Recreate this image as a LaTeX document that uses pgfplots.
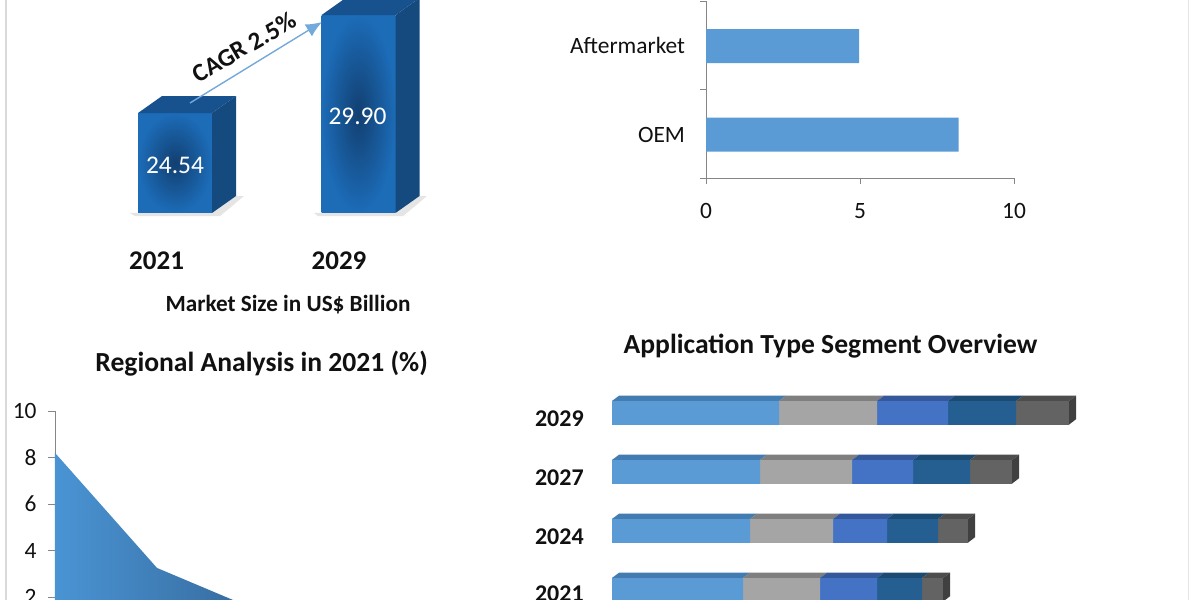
\documentclass[border=0pt]{standalone}
\usepackage{pgfplots}
\pgfplotsset{compat=1.18}
\usetikzlibrary{arrows.meta}
\usepackage{fontspec}
\setmainfont{Carlito}
\definecolor{axgray}{HTML}{868686}
\definecolor{barblue}{HTML}{5B9BD5}
\definecolor{sidefc}{HTML}{154A7E}
\definecolor{topfc}{HTML}{17528E}
\definecolor{frontout}{HTML}{1C6CB8}
\definecolor{frontin}{HTML}{123F70}
\definecolor{sa}{HTML}{5B9BD5}
\definecolor{sb}{HTML}{A5A5A5}
\definecolor{sc}{HTML}{4472C4}
\definecolor{sd}{HTML}{255E91}
\definecolor{se}{HTML}{636363}
\definecolor{ta}{HTML}{437CB0}
\definecolor{tb}{HTML}{7F7F7F}
\definecolor{tc}{HTML}{34589A}
\definecolor{td}{HTML}{1B4A73}
\definecolor{te}{HTML}{4D4D4D}
\definecolor{cap}{HTML}{404040}
\definecolor{txt}{HTML}{111111}
\definecolor{HTMLa}{HTML}{4A94D4}
\definecolor{HTMLb}{HTML}{35699B}
\begin{document}
\begin{tikzpicture}
\useasboundingbox (0pt,0pt) rectangle (600pt,300pt);
\clip (0pt,0pt) rectangle (600pt,300pt);
\fill[white] (0pt,0pt) rectangle (600pt,300pt);
\draw[gray!30,line width=0.6pt] (3pt,0pt) -- (3pt,300pt);
\draw[gray!20,line width=0.8pt] (594.3pt,0pt) -- (594.3pt,300pt);
% Panel 1: market size
\begin{axis}[at={(0pt,193.5pt)},anchor=south west,scale only axis,width=600pt,height=109pt,
  xmin=0,xmax=1200,ymin=19.07,ymax=31,axis lines=none,clip=false]
\addplot[fill=gray!20,draw=none,forget plot] coordinates {(130,19.07)(212,19.07)(236,20.0)(244,20.0)(220,18.9)(135,18.9)};
\addplot[fill=gray!20,draw=none,forget plot] coordinates {(314,19.07)(395,19.07)(419,20.0)(427,20.0)(403,18.9)(318,18.9)};
\addplot[ybar,bar width=37pt,bar shift=0pt,draw=none,inner color=frontin,outer color=frontout] coordinates {(175,24.54)};
\addplot[ybar,bar width=37pt,bar shift=0pt,draw=none,inner color=frontin,outer color=frontout] coordinates {(358.5,29.90)};
\addplot[fill=sidefc,draw=none] coordinates {(212,24.54)(236,25.47)(236,20.00)(212,19.07)} -- cycle;
\addplot[fill=topfc,draw=none] coordinates {(138,24.54)(162,25.47)(236,25.47)(212,24.54)} -- cycle;
\addplot[fill=sidefc,draw=none] coordinates {(395.5,29.90)(419.5,30.83)(419.5,20.00)(395.5,19.07)} -- cycle;
\addplot[fill=topfc,draw=none] coordinates {(321.5,29.90)(345.5,30.83)(419.5,30.83)(395.5,29.90)} -- cycle;
\node[text=white,font=\fontsize{12.7pt}{14pt}\selectfont] at (axis cs:175,21.7) {24.54};
\node[text=white,font=\fontsize{12.7pt}{14pt}\selectfont] at (axis cs:357.5,24.38) {29.90};
\end{axis}
\draw[-{Latex[length=8pt,width=7pt]},color=barblue!85,line width=0.7pt] (95pt,248.5pt) -- (161pt,289pt);
\node[rotate=30,text=txt,font=\bfseries\fontsize{12.6pt}{15pt}\selectfont] at (122pt,276.5pt) {CAGR 2.5\%};
\node[text=txt,font=\bfseries\fontsize{13.5pt}{15pt}\selectfont] at (78.3pt,169.5pt) {2021};
\node[text=txt,font=\bfseries\fontsize{13.5pt}{15pt}\selectfont] at (169.5pt,169.5pt) {2029};
\node[text=txt,font=\bfseries\fontsize{11.6pt}{13pt}\selectfont] at (144pt,147.7pt) {Market Size in US\$ Billion};
% Panel 2: OEM / Aftermarket
\begin{axis}[at={(353pt,211pt)},anchor=south west,scale only axis,width=154pt,height=88.5pt,
  xmin=0,xmax=10,ymin=0,ymax=2,
  axis x line=bottom,axis y line=left,axis line style={axgray,-},
  xtick={0,5,10},ytick={0,1,2},yticklabels={},
  major tick style={axgray},tick align=outside,major tick length=3pt,
  extra y ticks={0.49,1.5},extra y tick labels={OEM,Aftermarket},
  extra tick style={major tick length=0pt},
  /pgf/number format/assume math mode=true,
  tick label style={text=txt,font=\fontsize{11.7pt}{13pt}\selectfont},
  xticklabel style={yshift=-6pt},yticklabel style={xshift=-7pt},
  xbar,bar width=17pt,bar shift=0pt]
\addplot[fill=barblue,draw=none] coordinates {(8.2,0.49)(4.97,1.49)};
\end{axis}
% Panel 3: regional area
\begin{axis}[at={(27.5pt,-21.75pt)},anchor=south west,scale only axis,width=204pt,height=116.25pt,
  xmin=0,xmax=4,ymin=0,ymax=10,
  axis y line=left,axis x line=none,axis line style={axgray,-},
  ytick={0,2,4,6,8,10},xtick=\empty,major tick style={axgray},tick align=outside,major tick length=3.5pt,
  /pgf/number format/assume math mode=true,
  tick label style={text=txt,font=\fontsize{11.7pt}{13pt}\selectfont},yticklabel style={xshift=-2.2pt}]
\addplot[draw=none,left color=HTMLa,right color=HTMLb] coordinates {(0,8.2)(1,3.25)(2,1.4)(2,0)(0,0)} -- cycle;
\end{axis}
\node[text=txt,font=\bfseries\fontsize{13.8pt}{15pt}\selectfont] at (130.8pt,118pt) {Regional Analysis in 2021 (\%)};
% Panel 4: stacked
\begin{axis}[at={(306pt,-24.4pt)},anchor=south west,scale only axis,width=244pt,height=147.5pt,
  xmin=0,xmax=488,ymin=-1,ymax=4,axis lines=none,xbar stacked,bar width=12pt,clip=false]
\addplot[fill=sa,draw=none] coordinates {(131,0)(138,1)(148,2)(167,3)};
\addplot[fill=sb,draw=none] coordinates {(77,0)(83,1)(92,2)(98,3)};
\addplot[fill=sc,draw=none] coordinates {(57,0)(54,1)(61,2)(71,3)};
\addplot[fill=sd,draw=none] coordinates {(45,0)(51,1)(57,2)(68,3)};
\addplot[fill=se,draw=none] coordinates {(21,0)(30,1)(42,2)(53,3)};
\end{axis}
\begin{axis}[at={(306pt,-24.4pt)},anchor=south west,scale only axis,width=244pt,height=147.5pt,
  xmin=0,xmax=488,ymin=-1,ymax=4,axis lines=none,clip=false]
% row 2029
\addplot[fill=ta,draw=none] coordinates {(0,3.2)(167,3.2)(174,3.29)(7,3.29)} -- cycle;
\addplot[fill=tb,draw=none] coordinates {(167,3.2)(265,3.2)(272,3.29)(174,3.29)} -- cycle;
\addplot[fill=tc,draw=none] coordinates {(265,3.2)(336,3.2)(343,3.29)(272,3.29)} -- cycle;
\addplot[fill=td,draw=none] coordinates {(336,3.2)(404,3.2)(411,3.29)(343,3.29)} -- cycle;
\addplot[fill=te,draw=none] coordinates {(404,3.2)(457,3.2)(464,3.29)(411,3.29)} -- cycle;
\addplot[fill=cap,draw=none] coordinates {(457,2.8)(464,2.89)(464,3.29)(457,3.2)} -- cycle;
% row 2027
\addplot[fill=ta,draw=none] coordinates {(0,2.2)(148,2.2)(155,2.29)(7,2.29)} -- cycle;
\addplot[fill=tb,draw=none] coordinates {(148,2.2)(240,2.2)(247,2.29)(155,2.29)} -- cycle;
\addplot[fill=tc,draw=none] coordinates {(240,2.2)(301,2.2)(308,2.29)(247,2.29)} -- cycle;
\addplot[fill=td,draw=none] coordinates {(301,2.2)(358,2.2)(365,2.29)(308,2.29)} -- cycle;
\addplot[fill=te,draw=none] coordinates {(358,2.2)(400,2.2)(407,2.29)(365,2.29)} -- cycle;
\addplot[fill=cap,draw=none] coordinates {(400,1.8)(407,1.89)(407,2.29)(400,2.2)} -- cycle;
% row 2024
\addplot[fill=ta,draw=none] coordinates {(0,1.2)(138,1.2)(145,1.29)(7,1.29)} -- cycle;
\addplot[fill=tb,draw=none] coordinates {(138,1.2)(221,1.2)(228,1.29)(145,1.29)} -- cycle;
\addplot[fill=tc,draw=none] coordinates {(221,1.2)(275,1.2)(282,1.29)(228,1.29)} -- cycle;
\addplot[fill=td,draw=none] coordinates {(275,1.2)(326,1.2)(333,1.29)(282,1.29)} -- cycle;
\addplot[fill=te,draw=none] coordinates {(326,1.2)(356,1.2)(363,1.29)(333,1.29)} -- cycle;
\addplot[fill=cap,draw=none] coordinates {(356,0.8)(363,0.89)(363,1.29)(356,1.2)} -- cycle;
% row 2021
\addplot[fill=ta,draw=none] coordinates {(0,0.2)(131,0.2)(138,0.29)(7,0.29)} -- cycle;
\addplot[fill=tb,draw=none] coordinates {(131,0.2)(208,0.2)(215,0.29)(138,0.29)} -- cycle;
\addplot[fill=tc,draw=none] coordinates {(208,0.2)(265,0.2)(272,0.29)(215,0.29)} -- cycle;
\addplot[fill=td,draw=none] coordinates {(265,0.2)(310,0.2)(317,0.29)(272,0.29)} -- cycle;
\addplot[fill=te,draw=none] coordinates {(310,0.2)(331,0.2)(338,0.29)(317,0.29)} -- cycle;
\addplot[fill=cap,draw=none] coordinates {(331,-0.2)(338,-0.11)(338,0.29)(331,0.2)} -- cycle;
\end{axis}
\node[text=txt,font=\bfseries\fontsize{13.8pt}{15pt}\selectfont] at (415.3pt,127pt) {Application Type Segment Overview};
\foreach \yr/\ypx in {2029/90.5,2027/61,2024/31.5,2021/3}{
  \node[text=txt,font=\bfseries\fontsize{12pt}{14pt}\selectfont] at (279.7pt,\ypx pt) {\yr};}
\end{tikzpicture}
\end{document}
